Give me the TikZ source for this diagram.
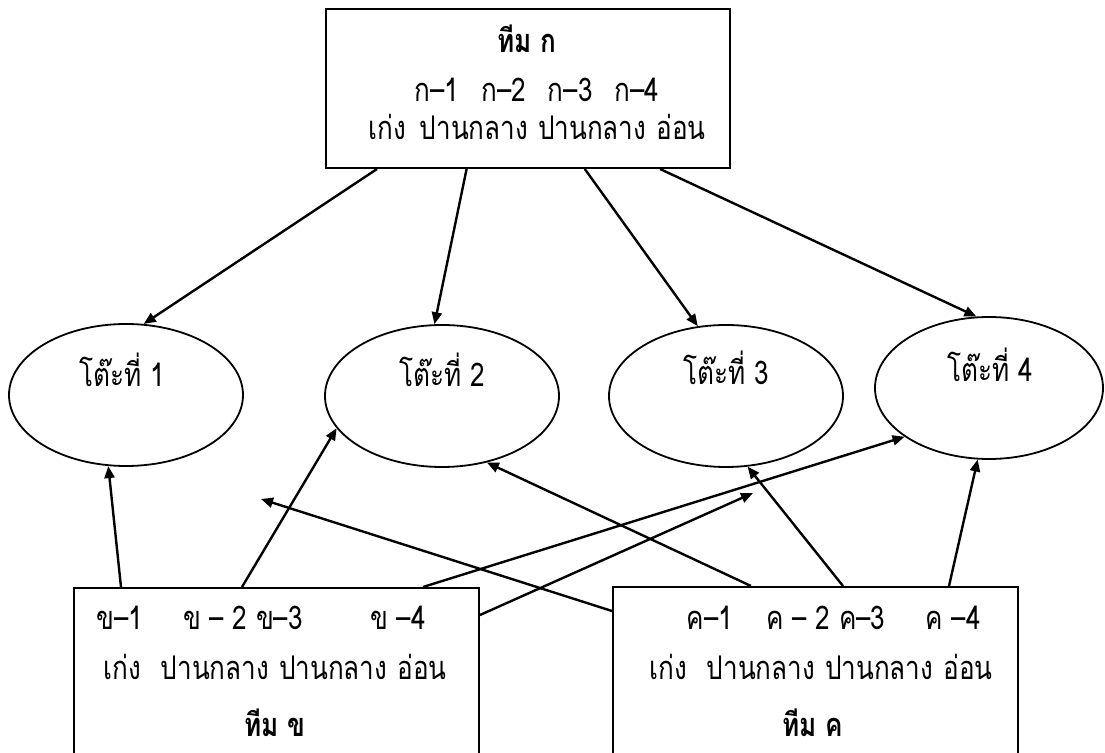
\documentclass[tikz,border=0pt]{standalone}
\usepackage{fontspec}
\newfontfamily\thaifont[Script=Thai,FakeStretch=0.8]{Loma}
\usetikzlibrary{shapes.geometric,arrows.meta}
\tikzset{
  teambox/.style={draw, line width=1pt, rectangle, anchor=north west, inner sep=0pt},
  tablenode/.style={draw, ellipse, line width=0.9pt, inner sep=0pt, minimum width=117pt, minimum height=71pt},
  txt/.style={anchor=base, inner sep=0pt, font=\thaifont\fontsize{16.3}{18}\selectfont},
  teamname/.style={txt, font=\thaifont\bfseries\fontsize{16.3}{18}\selectfont},
  conn/.style={line width=1.2pt, -{Triangle[length=6pt,width=5pt]}},
}
\begin{document}
\begin{tikzpicture}[x=0.5pt,y=-0.5pt]
\clip (0,0) rectangle (1105,753);

% team boxes
\node[teambox, minimum width=202pt, minimum height=79.5pt] (teamA) at (325,8) {};
\node[teambox, minimum width=202.5pt, minimum height=110pt] (teamB) at (73,587) {};
\node[teambox, minimum width=202.5pt, minimum height=110pt] (teamC) at (612,586) {};

% tables
\node[tablenode] (t1) at (126,395) {};
\node[tablenode] (t2) at (442,396) {};
\node[tablenode] (t3) at (726,396) {};
\node[tablenode, minimum width=114pt] (t4) at (989,388) {};

\node[txt] (l1) at (122,387) {โต๊ะที่ 1};
\node[txt] (l2) at (442,387) {โต๊ะที่ 2};
\node[txt] (l3) at (726,385) {โต๊ะที่ 3};
\node[txt] (l4) at (990,382) {โต๊ะที่ 4};

% team A text
\node[teamname] (nameA) at (527,53) {ทีม ก};
\node[txt] (codesA) at (537,102) {ก–1\hspace{11pt}ก–2\hspace{11pt}ก–3\hspace{11pt}ก–4};
\node[txt] (levelsA) at (537,140) {เก่ง\hspace{7pt}ปานกลาง\hspace{5pt}ปานกลาง\hspace{5pt}อ่อน};

% team B text
\node[txt] (b1) at (120,630) {ข–1};
\node[txt] (b23) at (243,630) {ข – 2 ข–3};
\node[txt] (b4) at (398,630) {ข –4};
\node[txt] (levelsB) at (275,680) {เก่ง\hspace{10pt}ปานกลาง\hspace{5pt}ปานกลาง\hspace{5pt}อ่อน};
\node[teamname] (nameB) at (275,737) {ทีม ข};

% team C text
\node[txt] (c1) at (710,630) {ค–1};
\node[txt] (c23) at (826,630) {ค – 2 ค–3};
\node[txt] (c4) at (953,630) {ค –4};
\node[txt] (levelsC) at (821,680) {เก่ง\hspace{10pt}ปานกลาง\hspace{5pt}ปานกลาง\hspace{5pt}อ่อน};
\node[teamname] (nameC) at (813,737) {ทีม ค};

% team A to the tables
\draw[conn] ([xshift=26pt]teamA.south west) -- (t1.76);
\draw[conn] ([xshift=70.8pt]teamA.south west) -- (t2.96);
\draw[conn] ([xshift=129.9pt]teamA.south west) -- (t3.112);
\draw[conn] ([xshift=167.5pt]teamA.south west) -- (t4.100);

% team B to the tables
\coordinate (aimB) at (753,493);
\draw[conn] ([xshift=24pt]teamB.north west) -- (t1.256);
\draw[conn] ([xshift=84.5pt]teamB.north west) -- (t2.197);
\draw[conn] ([xshift=175pt]teamB.north west) -- (t4.210);
\draw[conn] ([yshift=-14pt]teamB.north east) -- (aimB);

% team C to the tables
\coordinate (aimC) at (261,499);
\draw[conn] ([yshift=-12.5pt]teamC.north west) -- (aimC);
\draw[conn] ([xshift=69.5pt]teamC.north west) -- (t2.304);
\draw[conn] ([xshift=115.5pt]teamC.north west) -- (t3.287);
\draw[conn] ([xshift=168.5pt]teamC.north west) -- (t4.261);
\end{tikzpicture}
\end{document}
